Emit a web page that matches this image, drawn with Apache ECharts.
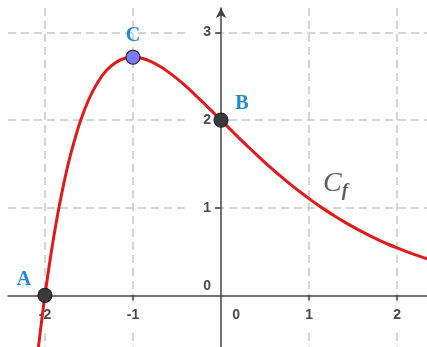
<!DOCTYPE html>
<html>
<head>
<meta charset="utf-8">
<script src="https://cdn.jsdelivr.net/npm/echarts@6/dist/echarts.min.js"></script>
<style>
html, body { margin: 0; padding: 0; background: #fff; }
#chart { width: 427px; height: 347px; }
</style>
</head>
<body>
<div id="chart"></div>
<script>
// curve C_f
var curveX = [-2.1, -2.05, -2, -1.95, -1.9, -1.85, -1.8, -1.75, -1.7, -1.6, -1.5, -1.4, -1.3, -1.2, -1.1, -1,
	-0.9, -0.8, -0.7, -0.6, -0.5, -0.4, -0.3, -0.2, -0.1, 0, 0.1, 0.2, 0.3, 0.4, 0.5, 0.6, 0.7, 0.8, 0.9, 1,
	1.1, 1.2, 1.3, 1.4, 1.5, 1.6, 1.7, 1.8, 1.9, 2, 2.1, 2.2, 2.3, 2.4];
var curveY = [-0.817, -0.388, 0, 0.351, 0.669, 0.954, 1.210, 1.439, 1.642, 1.981, 2.241, 2.433, 2.568, 2.656, 2.704, 2.718,
	2.706, 2.671, 2.618, 2.551, 2.473, 2.387, 2.295, 2.198, 2.100, 2, 1.900, 1.801, 1.704, 1.609, 1.516, 1.427, 1.341, 1.258, 1.179, 1.104,
	1.032, 0.964, 0.899, 0.838, 0.781, 0.727, 0.676, 0.628, 0.583, 0.541, 0.502, 0.465, 0.431, 0.399];

// named points
var pointNames = ['A', 'B', 'C'];
var pointX = [-2, 0, -1];
var pointY = [0, 2, 2.718];

// ticks and labels
var xTicks = [-2, -1, 1, 2];
var xLabels = [-2, -1, 0, 1, 2];
var yTicks = [1, 2, 3];
var yLabels = [0, 1, 2, 3];

(function() {
	var chart = echarts.init(document.getElementById('chart'));

	var xMin = -2.42, xMax = 2.34, yMin = -0.59, yMax = 3.28;
	var axisColor = '#444';
	var gridStyle = { color: '#c8c8c8', width: 1.5, type: [8, 5] };
	var labelFont = 'Liberation Sans, Arial, sans-serif';
	var numStyle = { fontFamily: labelFont, fontSize: 14, fontWeight: 'bold', color: '#4a4a4a' };

	// label look for each point
	var pointLook = {
		A: { fill: '#3a3a3a', offset: [-21, -15] },
		B: { fill: '#3a3a3a', offset: [21, -16] },
		C: { fill: '#7b7bff', offset: [0, -21] }
	};

	var curveData = curveX.map(function(x, i) { return [x, curveY[i]]; });
	var pointData = pointNames.map(function(n, i) {
		return {
			name: n,
			value: [pointX[i], pointY[i]],
			itemStyle: { color: pointLook[n].fill, borderColor: '#222', borderWidth: 1.2, opacity: 1 },
			label: { offset: pointLook[n].offset }
		};
	});

	function rich(extraN, extraZ) {
		return {
			n: Object.assign({}, numStyle, extraN),
			z: Object.assign({}, numStyle, extraZ)
		};
	}

	chart.setOption({
		animation: false,
		grid: { left: 8, top: 8, right: 0, bottom: 0, containLabel: false, outerBoundsMode: 'none' },
		xAxis: {
			type: 'value',
			min: xMin,
			max: xMax,
			axisLine: { onZero: false, lineStyle: { color: axisColor, width: 1.5 } },
			axisTick: { show: true, customValues: xTicks, length: 5, lineStyle: { color: axisColor, width: 1.5 } },
			axisLabel: {
				customValues: xLabels,
				margin: 10,
				formatter: function(v) { return v === 0 ? '{z|0}' : '{n|' + v + '}'; },
				rich: rich({ backgroundColor: '#fff', padding: [3, 2, 8, 2] }, { padding: [3, 0, 8, 30] })
			},
			splitLine: { show: true, lineStyle: gridStyle }
		},
		yAxis: {
			type: 'value',
			min: yMin,
			max: yMax,
			axisLine: { onZero: false, symbol: ['none', 'arrow'], symbolSize: [8, 10], lineStyle: { color: axisColor, width: 1.5 } },
			axisTick: { show: true, customValues: yTicks, length: 6, lineStyle: { color: axisColor, width: 1.5 } },
			axisLabel: {
				customValues: yLabels,
				margin: 10,
				formatter: function(v) { return v === 0 ? '{z|0}' : '{n|' + v + '}'; },
				rich: rich({ backgroundColor: '#fff', padding: [2, 0, 2, 18] }, { padding: [0, 0, 18, 0] })
			},
			splitLine: { show: true, lineStyle: gridStyle }
		},
		series: [{
			type: 'line',
			data: curveData,
			smooth: 0.3,
			symbol: 'none',
			lineStyle: { color: '#e31a1c', width: 3 },
			z: 3
		}, {
			type: 'scatter',
			data: pointData,
			symbolSize: 14,
			label: {
				show: true,
				position: 'inside',
				formatter: '{b}',
				fontFamily: 'Liberation Serif, serif',
				fontWeight: 'bold',
				fontSize: 20,
				color: '#2089dc'
			},
			z: 4
		}, {
			// curve name
			type: 'scatter',
			data: [[1.3, 1.27]],
			symbolSize: 0,
			silent: true,
			label: {
				show: true,
				position: 'inside',
				formatter: '{c|C}{f|f}',
				rich: {
					c: { fontFamily: 'Liberation Serif, serif', fontStyle: 'italic', fontSize: 28, color: '#333' },
					f: { fontFamily: 'Liberation Serif, serif', fontStyle: 'italic', fontWeight: 'bold', fontSize: 19, color: '#333', padding: [14, 0, 0, 0] }
				}
			},
			z: 4
		}]
	});

	// move both axes onto the origin, using the chart's own scales
	var corner = chart.convertToPixel({ gridIndex: 0 }, [xMin, yMin]);
	var origin = chart.convertToPixel({ gridIndex: 0 }, [0, 0]);
	chart.setOption({
		xAxis: { offset: -(corner[1] - origin[1]) },
		yAxis: { offset: -(origin[0] - corner[0]) }
	});
})();
</script>
</body>
</html>
